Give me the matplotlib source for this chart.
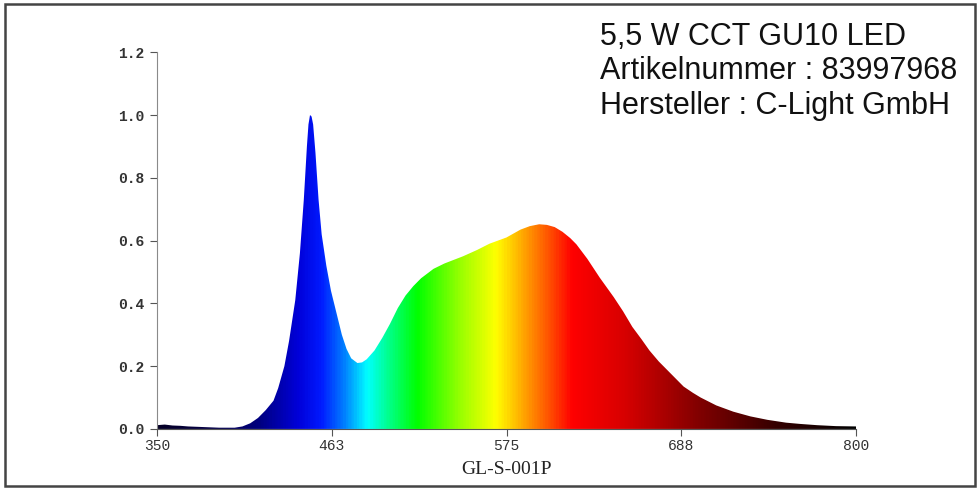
import matplotlib
matplotlib.use("Agg")
import matplotlib.pyplot as plt
import numpy as np
from matplotlib.colors import LinearSegmentedColormap, Normalize
from matplotlib.patches import Polygon, Rectangle

# spectrum (nm, relative intensity)
wavelength = [350, 355, 360, 365, 370, 380, 390, 400, 405, 410, 415, 420, 425,
              428, 432, 435, 439, 442, 444.5, 446.5, 447.5, 448.5, 449.5,
              450.5, 452, 454, 456, 459, 462, 466, 469, 472, 475, 479, 482,
              485, 490, 495, 500, 505, 510, 515, 520, 528, 535, 547, 556, 564,
              575, 584, 590, 596, 601, 606, 611, 616, 620, 627, 635, 644, 650,
              656, 662, 667, 673, 678, 684, 689, 695, 700, 710, 721, 732, 743,
              755, 764, 775, 787, 800]
intensity = [0.012, 0.014, 0.011, 0.010, 0.008, 0.006, 0.004, 0.004, 0.008,
             0.018, 0.035, 0.06, 0.09, 0.13, 0.2, 0.28, 0.41, 0.56, 0.73, 0.9,
             0.97, 1.0, 0.995, 0.97, 0.88, 0.73, 0.62, 0.52, 0.44, 0.36, 0.30,
             0.255, 0.225, 0.21, 0.212, 0.222, 0.25, 0.29, 0.335, 0.385,
             0.425, 0.455, 0.48, 0.51, 0.527, 0.55, 0.57, 0.59, 0.61, 0.635,
             0.646, 0.652, 0.65, 0.643, 0.628, 0.608, 0.588, 0.542, 0.482,
             0.42, 0.375, 0.325, 0.285, 0.25, 0.215, 0.19, 0.16, 0.135, 0.115,
             0.10, 0.075, 0.055, 0.04, 0.029, 0.02, 0.016, 0.012, 0.009, 0.008]

xticks = [350, 462.5, 575, 687.5, 800]
xtick_labels = ["350", "463", "575", "688", "800"]
yticks = [0.0, 0.2, 0.4, 0.6, 0.8, 1.0, 1.2]

info_lines = ["5,5 W CCT GU10 LED", "Artikelnummer : 83997968",
              "Hersteller : C-Light GmbH"]
xlabel = "GL-S-001P"

# colour of each wavelength
spectrum_stops = [
    (350, (0.02, 0.0, 0.15)),
    (390, (0.02, 0.0, 0.30)),
    (415, (0.0, 0.0, 0.50)),
    (440, (0.0, 0.0, 0.85)),
    (455, (0.0, 0.1, 1.0)),
    (470, (0.0, 0.5, 1.0)),
    (485, (0.0, 1.0, 1.0)),
    (500, (0.0, 1.0, 0.5)),
    (517, (0.0, 1.0, 0.0)),
    (545, (0.6, 1.0, 0.0)),
    (568, (1.0, 1.0, 0.0)),
    (588, (1.0, 0.6, 0.0)),
    (603, (1.0, 0.3, 0.0)),
    (617, (1.0, 0.0, 0.0)),
    (650, (0.85, 0.0, 0.0)),
    (700, (0.5, 0.0, 0.0)),
    (750, (0.2, 0.0, 0.0)),
    (800, (0.0, 0.0, 0.0)),
]
cmap = LinearSegmentedColormap.from_list(
    "spec", [((w - 350) / 450, c) for w, c in spectrum_stops])

fig = plt.figure(figsize=(9.77, 4.88), dpi=100)
ax = fig.add_axes([0.1607, 0.121, 0.7155, 0.772])

grad = np.linspace(350, 800, 900).reshape(1, -1)
im = ax.imshow(grad, extent=[350, 800, 0, 1.2], aspect="auto", origin="lower",
               cmap=cmap, norm=Normalize(350, 800), interpolation="bilinear")
verts = np.column_stack([[wavelength[0]] + wavelength + [wavelength[-1]],
                         [0] + intensity + [0]])
poly = Polygon(verts, closed=True, facecolor="none", edgecolor="none")
ax.add_patch(poly)
im.set_clip_path(poly)

ax.set_xlim(350, 800)
ax.set_ylim(0, 1.2)
ax.set_xticks(xticks)
ax.set_xticklabels(xtick_labels)
ax.set_yticks(yticks)
ax.set_yticklabels([f"{v:.1f}" for v in yticks])

for s in ["top", "right"]:
    ax.spines[s].set_visible(False)
ax.spines["left"].set_color("#8a8a8a")
ax.spines["bottom"].set_color("#555555")
ax.tick_params(axis="y", length=5, color="#555555", pad=4)
ax.tick_params(axis="x", length=5, color="#555555", pad=2)
for lab in ax.get_yticklabels() + ax.get_xticklabels():
    lab.set_fontfamily("Liberation Mono")
    lab.set_fontsize(10.5)
    lab.set_color("#333333")
for lab in ax.get_yticklabels():
    lab.set_fontweight("bold")

ax.set_xlabel(xlabel, fontfamily="Liberation Serif", fontsize=14,
              color="#222222", labelpad=6)

for i, line in enumerate(info_lines):
    fig.text(0.614, 0.908 - i * 0.0705, line, fontfamily="Liberation Sans",
             fontsize=22, color="#111111", va="baseline", ha="left")

fig.patches.append(Rectangle((5 / 977, 2 / 488), 970 / 977, 482 / 488,
                             transform=fig.transFigure, fill=False,
                             edgecolor="#444444", linewidth=1.8))

fig.savefig("out.png", dpi=100)
